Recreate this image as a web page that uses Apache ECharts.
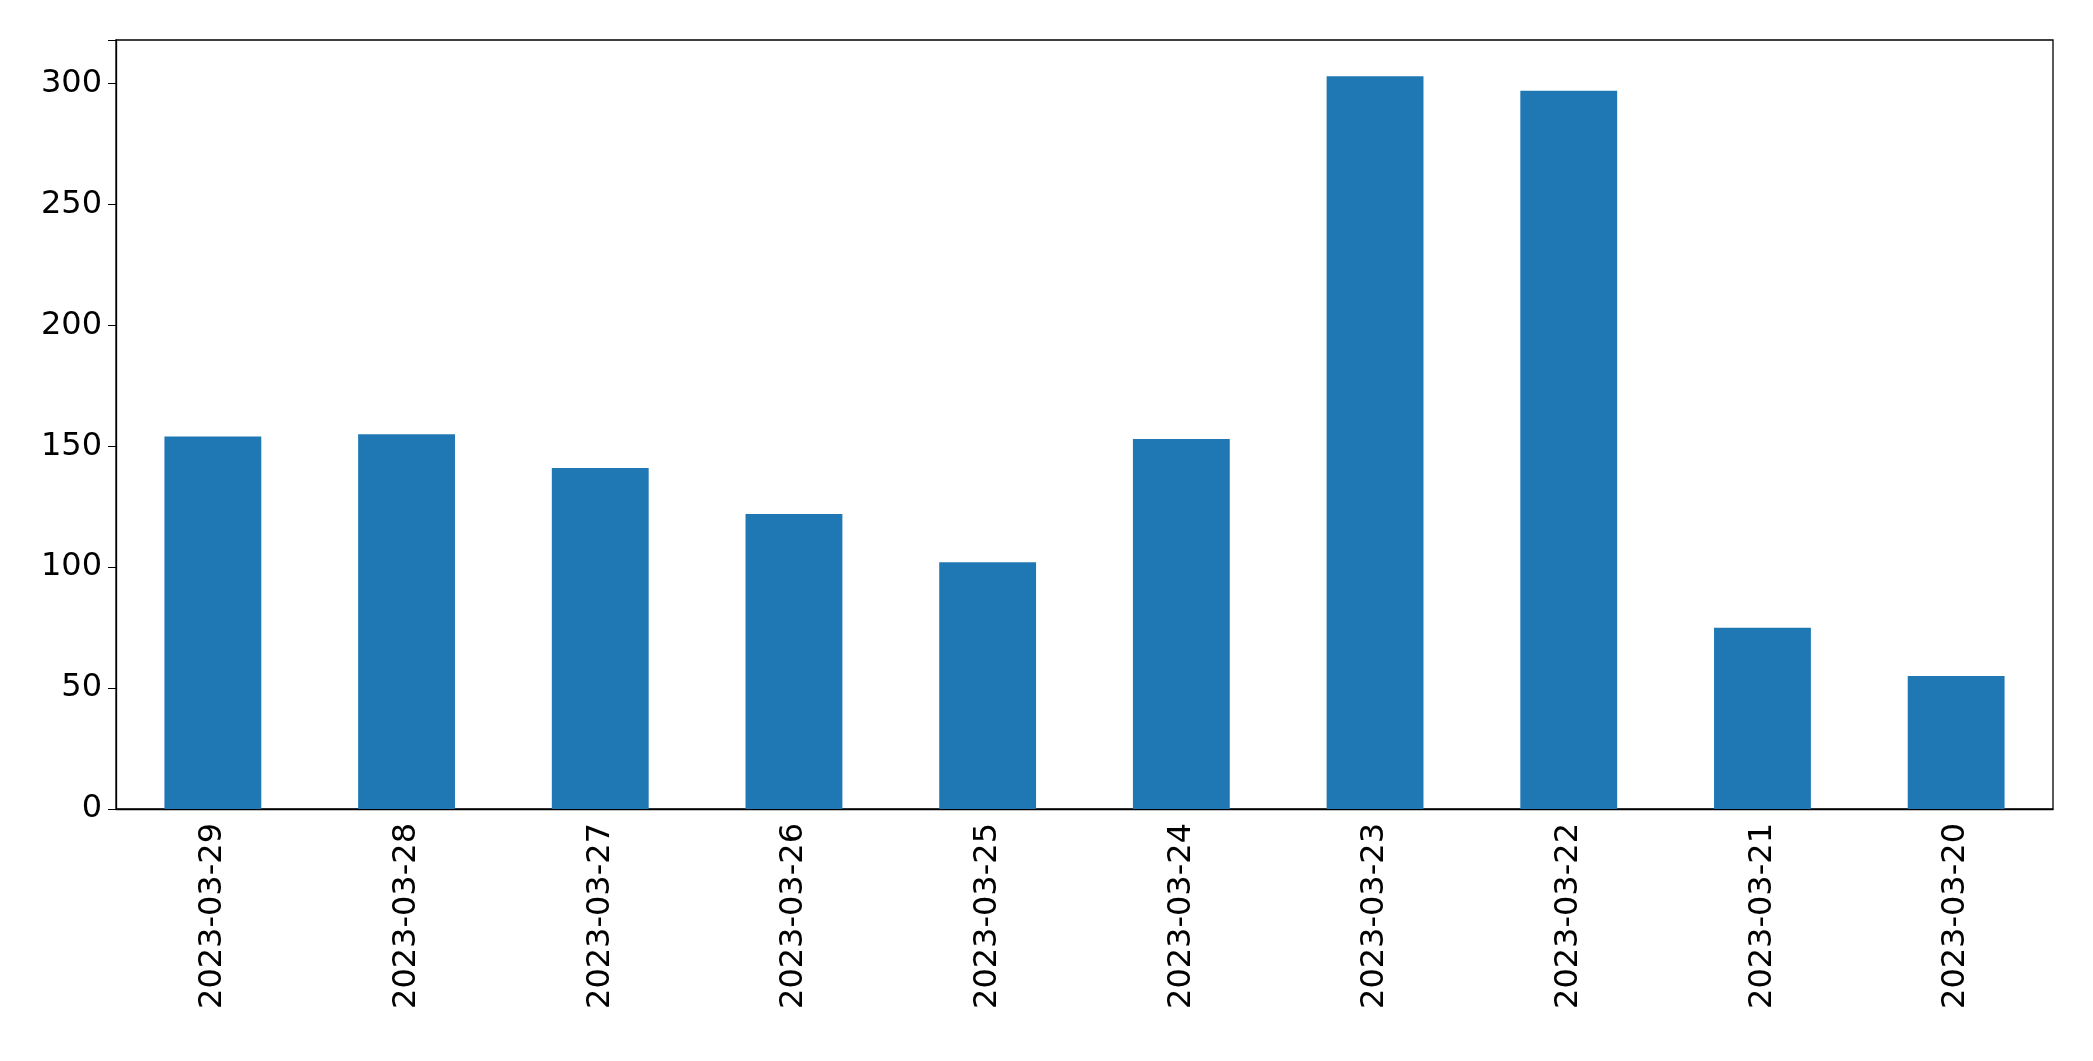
<!DOCTYPE html>
<html><head><meta charset="utf-8">
<script src="https://cdn.jsdelivr.net/npm/echarts@6/dist/echarts.min.js"></script>
<style>html,body{margin:0;padding:0;background:#fff}#c{width:2093px;height:1061px}</style>
</head><body><div id="c"></div>
<script>
const categories = ["2023-03-29","2023-03-28","2023-03-27","2023-03-26","2023-03-25","2023-03-24","2023-03-23","2023-03-22","2023-03-21","2023-03-20"];
const values = [154,155,141,122,102,153,303,297,75,55];
const yTicks = [0,50,100,150,200,250,300];
const chart = echarts.init(document.getElementById('c'));
chart.setOption({
  animation:false,
  grid:{left:116,right:40,top:40,bottom:252},
  xAxis:{type:'category',data:categories,
    axisLine:{lineStyle:{color:'#000',width:1.3}},
    axisTick:{alignWithLabel:true,length:8,lineStyle:{color:'#000'}},
    axisLabel:{rotate:90,color:'#000',fontSize:32,fontFamily:'DejaVu Sans',margin:14}},
  yAxis:{type:'value',min:0,max:318,interval:50,
    axisLine:{show:true,lineStyle:{color:'#000',width:1.3}},
    axisTick:{show:true,length:8,lineStyle:{color:'#000'}},
    splitLine:{show:false},
    axisLabel:{color:'#000',fontSize:32,fontFamily:'DejaVu Sans',margin:14,
      formatter:v=>yTicks.includes(v)?String(v):''}},
  series:[{type:'bar',data:values,barWidth:'50%',itemStyle:{color:'#1f77b4'}}],
  graphic:[{type:'rect',shape:{x:116,y:40,width:2093-116-40,height:1061-40-252},
    style:{fill:'none',stroke:'#000',lineWidth:1.3},silent:true}]
});
</script></body></html>
